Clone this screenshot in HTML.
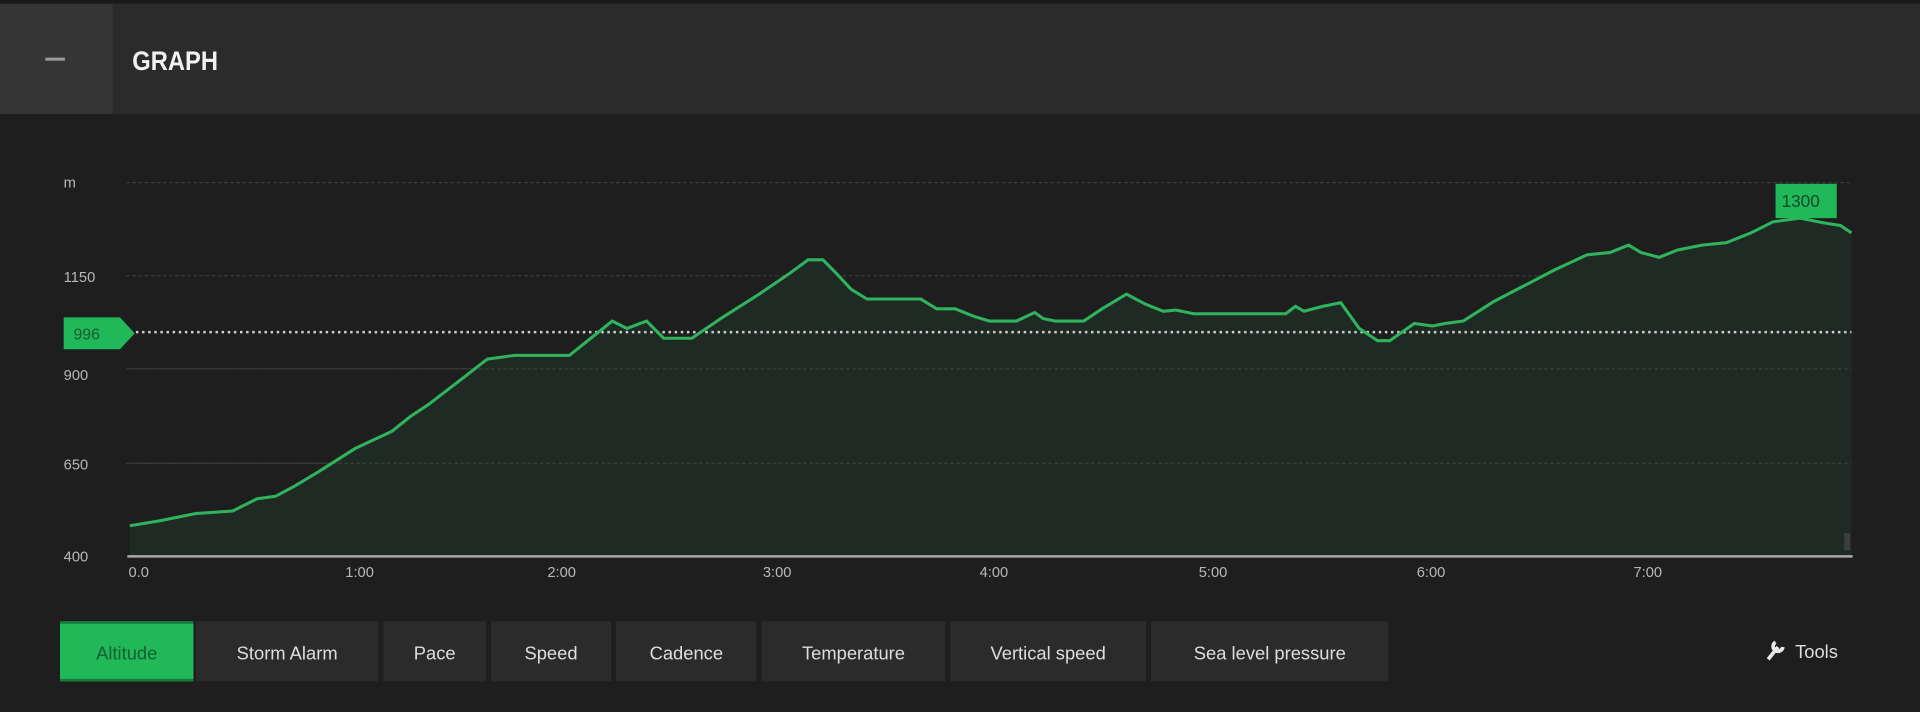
<!DOCTYPE html>
<html><head><meta charset="utf-8"><style>
html,body{margin:0;padding:0;background:#1e1e1f;width:1920px;height:712px;overflow:hidden}
svg{display:block}
text{font-family:"Liberation Sans",sans-serif}
</style></head><body>
<svg width="1920" height="712" viewBox="0 0 1568 581" preserveAspectRatio="none">
<rect width="1568" height="581" fill="#1e1e1f"/>
<rect y="0" width="1568" height="93" fill="#2b2b2b"/>
<rect y="0" width="1568" height="3" fill="#1a1a1a"/>
<rect y="3" width="92" height="90" fill="#353535"/>
<rect x="37" y="47" width="16" height="2.5" fill="#9a9a9a"/>
<text x="108" y="57" fill="#f2f2f2" font-size="22" font-weight="bold" textLength="70" lengthAdjust="spacingAndGlyphs" font-family="Liberation Sans Narrow, Liberation Sans, sans-serif">GRAPH</text>

<g stroke="#3a3a3a" stroke-width="1" stroke-dasharray="3,2">
<line x1="103" y1="149" x2="1512" y2="149"/>
<line x1="103" y1="225" x2="1512" y2="225"/>
<line x1="103" y1="301" x2="1512" y2="301"/>
<line x1="103" y1="378" x2="1512" y2="378"/>
</g>
<g fill="#b8b8b8" font-size="12">
<text x="52" y="153">m</text>
<text x="52" y="230">1150</text>
<text x="52" y="310">900</text>
<text x="52" y="383">650</text>
<text x="52" y="458">400</text>
</g>
<path id="p" d="M106,429 L130,425 L160,419 L190,417 L210,407 L225,405 L240,397 L260,385 L290,366 L320,352 L335,340 L350,330 L380,307 L398,293 L420,290 L465,290 L490,270 L500,262 L512,268 L528,262 L542,276 L565,276 L590,259 L620,240 L645,223 L660,212 L672,212 L682,222 L695,236 L708,244 L740,244 L752,244 L765,252 L780,252 L795,258 L808,262 L830,262 L845,255 L852,260 L862,262 L885,262 L900,252 L920,240 L935,248 L950,254 L960,253 L975,256 L1050,256 L1058,250 L1065,254 L1080,250 L1095,247 L1110,268 L1125,278 L1135,278 L1155,264 L1170,266 L1180,264 L1195,262 L1220,246 L1245,233 L1270,220 L1296,208 L1315,206 L1330,200 L1340,206 L1355,210 L1370,204 L1390,200 L1410,198 L1430,190 L1448,181 L1470,178 L1490,182 L1503,184 L1512,190" fill="none"/>
<path d="M106,429 L130,425 L160,419 L190,417 L210,407 L225,405 L240,397 L260,385 L290,366 L320,352 L335,340 L350,330 L380,307 L398,293 L420,290 L465,290 L490,270 L500,262 L512,268 L528,262 L542,276 L565,276 L590,259 L620,240 L645,223 L660,212 L672,212 L682,222 L695,236 L708,244 L740,244 L752,244 L765,252 L780,252 L795,258 L808,262 L830,262 L845,255 L852,260 L862,262 L885,262 L900,252 L920,240 L935,248 L950,254 L960,253 L975,256 L1050,256 L1058,250 L1065,254 L1080,250 L1095,247 L1110,268 L1125,278 L1135,278 L1155,264 L1170,266 L1180,264 L1195,262 L1220,246 L1245,233 L1270,220 L1296,208 L1315,206 L1330,200 L1340,206 L1355,210 L1370,204 L1390,200 L1410,198 L1430,190 L1448,181 L1470,178 L1490,182 L1503,184 L1512,190 L1512,454 L106,454 Z" fill="#1f2a24"/>
<g stroke="#3a3f3b" stroke-width="1" stroke-dasharray="3,2">
<line x1="106" y1="301" x2="1512" y2="301"/>
<line x1="106" y1="378" x2="1512" y2="378"/>
</g>
<line x1="106" y1="271" x2="1512" y2="271" stroke="#d0d0d0" stroke-width="2" stroke-dasharray="2,3"/>
<use href="#p" stroke="#2fb35d" stroke-width="2.5"/>
<line x1="104" y1="454" x2="1513" y2="454" stroke="#a8aaa8" stroke-width="2"/>
<path d="M52,259 L98,259 L110,272 L98,285 L52,285 Z" fill="#20b858"/>
<text x="60" y="277" fill="#175c2f" font-size="13">996</text>
<rect x="1450" y="150" width="50" height="28" fill="#20b858"/>
<text x="1455" y="169" fill="#114b25" font-size="14">1300</text>
<rect x="1506" y="435" width="5" height="14" fill="#3a3f3b"/>
<g fill="#b8b8b8" font-size="12">
<text x="105" y="471">0.0</text>
<text x="282" y="471">1:00</text>
<text x="447" y="471">2:00</text>
<text x="623" y="471">3:00</text>
<text x="800" y="471">4:00</text>
<text x="979" y="471">5:00</text>
<text x="1157" y="471">6:00</text>
<text x="1334" y="471">7:00</text>
</g>
<g fill="#2b2b2b">
<rect x="160" y="507" width="149" height="49"/>
<rect x="313" y="507" width="84" height="49"/>
<rect x="401" y="507" width="98" height="49"/>
<rect x="503" y="507" width="115" height="49"/>
<rect x="622" y="507" width="150" height="49"/>
<rect x="776" y="507" width="160" height="49"/>
<rect x="940" y="507" width="194" height="49"/>
</g>
<rect x="49" y="507" width="109" height="49" fill="#20b858"/>
<rect x="49" y="507" width="109" height="2" fill="#157a3a"/>
<rect x="49" y="554" width="109" height="2" fill="#157a3a"/>
<g font-size="15" text-anchor="middle" fill="#dedede">
<text x="103.5" y="538" fill="#15602f">Altitude</text>
<text x="234.5" y="538">Storm Alarm</text>
<text x="355" y="538">Pace</text>
<text x="450" y="538">Speed</text>
<text x="560.5" y="538">Cadence</text>
<text x="697" y="538">Temperature</text>
<text x="856" y="538">Vertical speed</text>
<text x="1037" y="538">Sea level pressure</text>
</g>
<text x="1466" y="537" fill="#dedede" font-size="15">Tools</text>
<path d="M1444,538 L1452,528 M1450,524 a4,4 0 1,0 6,4" stroke="#e8e8e8" stroke-width="3" fill="none"/>
</svg>
</body></html>
